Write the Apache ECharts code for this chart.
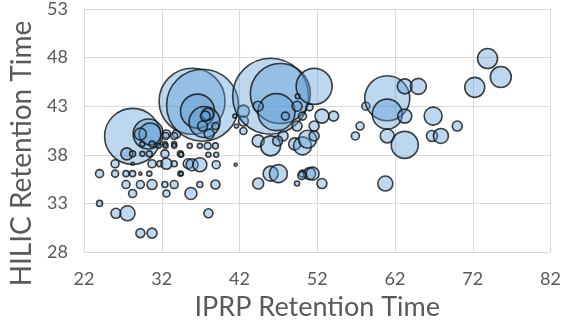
<!DOCTYPE html>
<html lang="en">
<head>
  <meta charset="UTF-8">
  <title>HILIC vs IPRP</title>
  <style>
    html, body { margin: 0; padding: 0; background: #fff; }
  </style>
</head>
<body>
  <div id="main" style="width:564px;height:326px"></div>
  <script src="https://cdn.jsdelivr.net/npm/echarts@6/dist/echarts.min.js"></script>
  <script>
    var myChart = echarts.init(document.getElementById('main'))

    // tick labels
    var xTicks = [22, 32, 42, 52, 62, 72, 82]
    var yTicks = [28, 33, 38, 43, 48, 53]

    // IPRP time, HILIC time, bubble size
    var iprp = [
      28.25, 30.25, 30.5, 29.25, 27.5, 28.25, 32.6, 33.9, 29.5, 30.75, 32.4, 33.6,
      29.5, 30.4, 32.4, 34.4, 28.25, 26.0, 30.75, 31.75, 32.6, 33.6, 35.4, 24.0,
      26.0, 27.4, 28.25, 29.25, 30.4, 34.4, 27.4, 29.25, 30.75, 32.4, 33.6, 28.25,
      32.6, 24.0, 26.1, 27.6, 29.25, 30.75,
      35.9, 37.25, 36.6, 37.5, 37.9, 37.6, 38.9, 37.25, 38.1, 37.9, 38.9, 36.9,
      35.6, 32.5, 33.6, 31.6, 32.5, 33.6, 42.5, 42.5, 42.5, 41.4, 41.6, 35.9,
      36.9, 39.0, 41.5, 34.5, 38.0, 39.0, 34.5, 36.9, 38.9, 35.75, 38.0,
      46.0, 47.25, 46.75, 47.9, 49.4, 50.1, 49.4, 49.5, 44.4, 44.4, 46.0, 47.6,
      46.9, 49.1, 50.1, 51.0, 52.6, 54.1, 51.6, 51.6, 50.75, 51.6, 56.9, 57.5,
      58.25, 44.4, 46.0, 47.0, 49.4, 50.1, 51.0, 51.4, 52.6, 50.0, 60.75,
      61.0, 61.0, 63.25, 65.0, 63.25, 61.0, 63.25, 66.9, 66.75, 67.9, 70.0,
      73.9, 75.6, 72.25
    ]
    var hilic = [
      39.9, 40.14, 40.14, 40.14, 38.1, 38.1, 40.14, 40.14, 39.1, 39.1, 39.1, 39.1,
      38.1, 38.1, 38.1, 38.1, 37.08, 37.08, 37.08, 37.08, 37.08, 37.08, 37.08, 36.06,
      36.06, 36.06, 36.06, 36.06, 36.06, 36.06, 34.94, 34.94, 34.94, 34.94, 34.94, 34.02,
      34.02, 33.0, 31.98, 31.98, 29.94, 29.94,
      43.51, 43.1, 42.49, 41.37, 42.18, 41.98, 40.96, 40.96, 40.14, 38.92, 38.92, 38.92,
      38.92, 39.94, 39.94, 38.92, 38.92, 38.92, 42.49, 41.47, 40.45, 41.98, 40.96, 36.98,
      36.98, 36.98, 36.98, 38.0, 38.0, 38.0, 36.06, 34.94, 34.94, 34.02, 31.98,
      44.02, 44.3, 42.39, 41.98, 43.0, 41.98, 40.96, 44.02, 43.0, 39.43, 38.92, 39.94,
      39.43, 39.12, 38.92, 42.9, 41.98, 41.98, 45.04, 40.96, 39.6, 39.94, 39.94, 40.96,
      43.0, 35.04, 36.06, 36.06, 35.04, 36.06, 36.06, 36.06, 35.04, 35.86, 35.04,
      43.82, 42.18, 45.04, 45.04, 41.98, 39.94, 39.02, 41.98, 39.94, 39.94, 40.96,
      47.9, 46.0, 44.94
    ]
    var bubbleSize = [
      56, 30, 22, 12, 12, 6, 8, 8, 5, 6, 5, 5,
      5, 6, 8, 6, 3, 8, 8, 6, 11, 6, 10, 8,
      7, 6, 6, 3, 5, 5, 8, 8, 10, 6, 8, 8,
      7, 6, 10, 15, 9, 10,
      66, 72, 34, 31, 12, 10, 7, 10, 10, 7, 6, 5,
      5, 7, 7, 5, 5, 5, 12, 10, 7, 4, 4, 12,
      14, 8, 3, 5, 5, 5, 4, 6, 9, 12, 9,
      76, 60, 37, 8, 10, 8, 10, 5, 10, 12, 20, 10,
      10, 12, 18, 7, 14, 10, 36, 10, 18, 10, 8, 8,
      8, 11, 15, 18, 5, 7, 12, 13, 10, 8, 15,
      45, 30, 15, 16, 14, 14, 27, 18, 11, 15, 10,
      20, 21, 20
    ]

    var points = []
    for (var i = 0; i < iprp.length; i++) {
      points.push([iprp[i], hilic[i], bubbleSize[i]])
    }

    var options = {
      animation: false,
      grid: { left: 73, right: 11, top: 7, bottom: 74 },
      xAxis: {
        type: 'value',
        min: 22, max: 82, interval: 10,
        name: 'IPRP Retention Time',
        nameLocation: 'middle',
        nameGap: 42,
        nameTextStyle: { fontFamily: 'Lato', fontSize: 27, color: '#595959' },
        axisLine: { show: false },
        axisTick: { show: false },
        axisLabel: {
          fontFamily: 'Lato', fontSize: 18, color: '#595959', margin: 18,
          formatter: function (v) { return xTicks.indexOf(v) > -1 ? v : '' }
        },
        splitLine: { lineStyle: { color: '#d9d9d9', width: 1 } }
      },
      yAxis: {
        type: 'value',
        min: 28, max: 53, interval: 5,
        name: 'HILIC Retention Time',
        nameLocation: 'middle',
        nameGap: 48,
        // pushes the rotated title down a little, as in the original
        nameTextStyle: { fontFamily: 'Lato', fontSize: 28, color: '#595959', padding: [0, 46, 0, 0] },
        axisLine: { show: false },
        axisTick: { show: false },
        axisLabel: {
          fontFamily: 'Lato', fontSize: 18, color: '#595959', margin: 16,
          formatter: function (v) { return yTicks.indexOf(v) > -1 ? v : '' }
        },
        splitLine: { lineStyle: { color: '#d9d9d9', width: 1 } }
      },
      series: [
        {
          type: 'scatter',
          data: points,
          symbolSize: function (arg) {
            return arg[2]
          },
          itemStyle: {
            color: 'rgba(91,155,213,0.5)',
            borderColor: '#111',
            borderWidth: 1.6
          }
        }
      ]
    }

    myChart.setOption(options)
  </script>
</body>
</html>
